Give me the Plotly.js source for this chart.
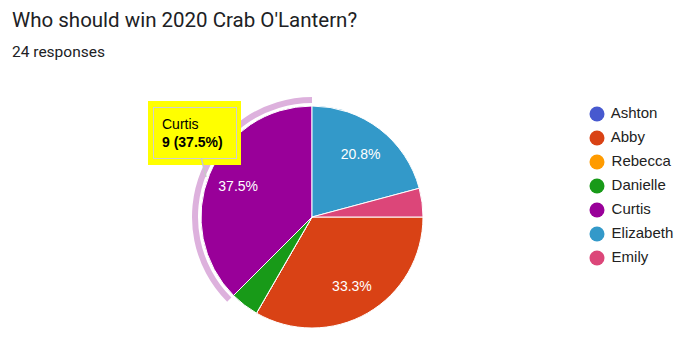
<!DOCTYPE html>
<html>
<head>
<meta charset="utf-8">
<script src="https://cdn.plot.ly/plotly-3.0.1.min.js"></script>
<style>html,body{margin:0;padding:0;background:#fff;}#chart{width:696px;height:361px;}</style>
</head>
<body>
<div id="chart"></div>
<script>
// ---- data ----
const titleText = "Who should win 2020 Crab O'Lantern?";
const subtitleText = "24 responses";
const names = ["Ashton", "Abby", "Rebecca", "Danielle", "Curtis", "Elizabeth", "Emily"];
const votes = [0, 8, 0, 1, 9, 5, 1];
const colors = ["#4759cf", "#d94215", "#ff9b00", "#189a18", "#990099", "#3399c9", "#dc4679"];
const highlighted = "Curtis";

// ---- helpers ----
const W = 696, H = 361;
const px = x => x / W;
const py = y => 1 - y / H;
const total = votes.reduce((a, b) => a + b, 0);
const hiIdx = names.indexOf(highlighted);

const labelTemplates = votes.map(v => (v / total >= 0.05 ? "%{percent:.1%}" : ""));
const pieDomain = {x: [px(201), px(423)], y: [py(328), py(106)]};

const ring = {
  type: "pie",
  labels: names,
  values: votes,
  sort: false,
  direction: "clockwise",
  rotation: 90,
  hole: 0.95,
  domain: {x: [px(192), px(432)], y: [py(337), py(97)]},
  marker: {colors: names.map((n, i) => i === hiIdx ? "#ddb1dd" : "rgba(0,0,0,0)"), line: {width: 0}},
  textinfo: "none",
  hoverinfo: "skip",
  showlegend: false
};

const pie = {
  type: "pie",
  labels: names,
  values: votes,
  sort: false,
  direction: "clockwise",
  rotation: 90,
  domain: pieDomain,
  marker: {colors: colors, line: {color: "#ffffff", width: 1}},
  textinfo: "none",
  hoverinfo: "skip",
  showlegend: false
};

// transparent donut carrying the percentage labels (places them mid-ring)
const labelPie = {
  type: "pie",
  labels: names,
  values: votes,
  sort: false,
  direction: "clockwise",
  rotation: 90,
  hole: 0.44,
  domain: pieDomain,
  marker: {colors: names.map(() => "rgba(0,0,0,0)"), line: {width: 0}},
  texttemplate: labelTemplates,
  textposition: "inside",
  insidetextorientation: "horizontal",
  insidetextfont: {family: "Liberation Sans, Arial, sans-serif", size: 14, color: "#ffffff"},
  hoverinfo: "skip",
  showlegend: false
};

const legendTrace = {
  type: "scatter",
  mode: "markers+text",
  x: names.map(() => 7),
  y: names.map((n, i) => i),
  text: names.map(n => " " + n),
  textposition: "middle right",
  textfont: {family: "Liberation Sans, Arial, sans-serif", size: 15, color: "#222222"},
  marker: {color: colors, size: 15, symbol: "circle"},
  hoverinfo: "skip",
  showlegend: false,
  cliponaxis: false
};

const pct = (votes[hiIdx] / total * 100).toFixed(1);

const layout = {
  width: W, height: H,
  margin: {l: 0, r: 0, t: 0, b: 0},
  paper_bgcolor: "#ffffff",
  plot_bgcolor: "#ffffff",
  showlegend: false,
  title: {
    text: titleText,
    x: px(12), xanchor: "left", xref: "paper",
    y: py(20), yanchor: "middle", yref: "paper",
    font: {family: "Roboto, sans-serif", size: 20.5, color: "#202124"}
  },
  xaxis: {domain: [px(590), 1], range: [0, 106], visible: false, fixedrange: true},
  yaxis: {domain: [py(270), py(102)], range: [6.5, -0.5], visible: false, fixedrange: true},
  shapes: [{
    type: "rect", xref: "paper", yref: "paper",
    x0: px(148), x1: px(241), y0: py(165), y1: py(101),
    fillcolor: "#ffff00", line: {width: 0}, layer: "above"
  }],
  annotations: [
    {
      text: subtitleText, xref: "paper", yref: "paper",
      x: px(10), y: py(52), xanchor: "left", yanchor: "middle", showarrow: false,
      font: {family: "Roboto, sans-serif", size: 15.5, color: "#202124"}
    },
    {
      text: names[hiIdx] + "<br><b>" + votes[hiIdx] + " (" + pct + "%)</b>",
      xref: "paper", yref: "paper",
      x: px(206), y: py(177),
      ax: -11, ay: -44,
      showarrow: true, arrowhead: 0, arrowwidth: 1.5, arrowcolor: "#c8c8c8",
      align: "left", width: 66, borderpad: 8,
      bgcolor: "#ffff00", bordercolor: "#d0d0d0", borderwidth: 1,
      font: {family: "Liberation Sans, Arial, sans-serif", size: 14, color: "#000000"}
    }
  ]
};

Plotly.newPlot("chart", [ring, pie, labelPie, legendTrace], layout, {displayModeBar: false, staticPlot: true});
</script>
</body>
</html>
